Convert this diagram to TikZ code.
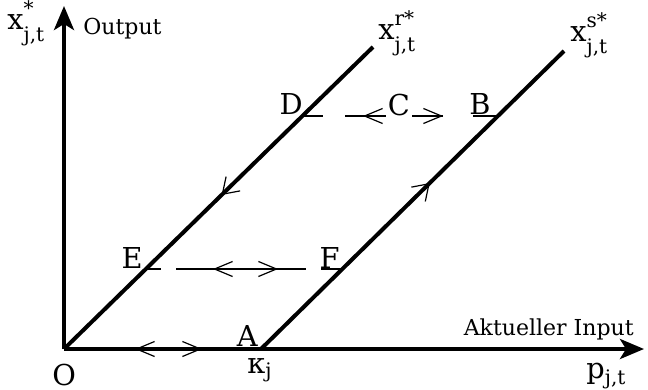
\documentclass[tikz,border=0pt]{standalone}
\usepackage{amsmath}
\usepackage{fontspec}
\setmainfont{DejaVu Serif}
\usetikzlibrary{arrows.meta, decorations.markings}

% x with raised superscript and lowered j,t subscript
\newcommand{\xjt}[1]{\text{x}^{\raisebox{2pt}{$\scriptstyle\text{#1}$}}_{\raisebox{-2pt}{$\scriptstyle\text{j,t}$}}}

\begin{document}
\begin{tikzpicture}[
    x=0.5pt, y=-0.5pt,
    axis/.style={line width=2pt, -{Stealth[length=12pt, width=10pt, inset=3pt]}},
    curve/.style={line width=2pt},
    guide/.style={line width=0.6pt},
    chevrons/.style={line width=0.6pt, {Straight Barb[length=9pt, width=7.5pt]}-{Straight Barb[length=9pt, width=7.5pt]}},
    midtip/.style={postaction={decorate}, decoration={markings, mark=at position #1 with {\arrow{Straight Barb[length=7.5pt, width=10pt, line width=0.6pt]}}}},
    ptlabel/.style={font=\fontsize{14.4}{17}\selectfont, inner sep=0pt},
    axislabel/.style={font=\fontsize{11}{13}\selectfont, inner sep=0pt},
]
\useasboundingbox (0,0) rectangle (648,390);

% Key points
\coordinate (O) at (64,349);
\coordinate (ytip) at (64,6);
\coordinate (xtip) at (644,349);
\coordinate (Apt) at (261,349);
\coordinate (rtop) at (373,47);
\coordinate (stop) at (564,51);
\coordinate (Ept) at (146,269);
\coordinate (Fpt) at (342,269);
\coordinate (Dpt) at (302,116);
\coordinate (Bpt) at (498,116);

% Axes
\draw[axis] (O) -- (ytip);
\draw[axis] (O) -- (xtip);

% Output lines
\draw[curve, midtip=0.49] (rtop) -- (O);
\draw[curve, midtip=0.557] (Apt) -- (stop);

% Horizontal moves
\draw[guide, dash pattern=on 7.5pt off 7.5pt on 65pt off 7.5pt on 10pt] (Ept) -- (Fpt);
\coordinate (efL) at (213,269);
\coordinate (efR) at (278,269);
\draw[chevrons] (efL) -- (efR);

\draw[guide, dash pattern=on 10.5pt off 11pt on 49pt off 15pt on 13pt] (Dpt) -- (Bpt);
\coordinate (dbL) at (363,116);
\coordinate (dbR) at (443,116);
\draw[chevrons] (dbL) -- (dbR);

% Lower move along the axis
\coordinate (oaL) at (135,349);
\coordinate (oaR) at (202,349);
\draw[chevrons] (oaL) -- (oaR);

% Point labels
\node[ptlabel, anchor=base east] (E) at (143,268) {E};
\node[ptlabel, anchor=base east] (F) at (340,268) {F};
\node[ptlabel, anchor=base east] (D) at (303,115) {D};
\node[ptlabel, anchor=base east] (B) at (491,115) {B};
\node[ptlabel, anchor=base, fill=white, inner sep=1pt] (C) at (399,116) {C};
\node[ptlabel, anchor=base east] (A) at (258,346) {A};
\node[ptlabel, anchor=base west] (O-label) at (52,385) {O};
\node[ptlabel, anchor=base west] (kappa) at (247,373) {$\text{κ}_{\text{j}}$};

% Axis labels
\node[ptlabel, anchor=base west] (ylab) at (7,30) {$\xjt{*}$};
\node[axislabel, anchor=base west] (output) at (83,35) {Output};
\node[ptlabel, anchor=base west] (plab) at (586,378) {$\text{p}_{\text{j,t}}$};
\node[axislabel, anchor=base east] (input) at (634,335) {Aktueller Input};
\node[ptlabel, anchor=base west] (rlab) at (378,40) {$\xjt{r*}$};
\node[ptlabel, anchor=base west] (slab) at (570,42) {$\xjt{s*}$};

\end{tikzpicture}
\end{document}
